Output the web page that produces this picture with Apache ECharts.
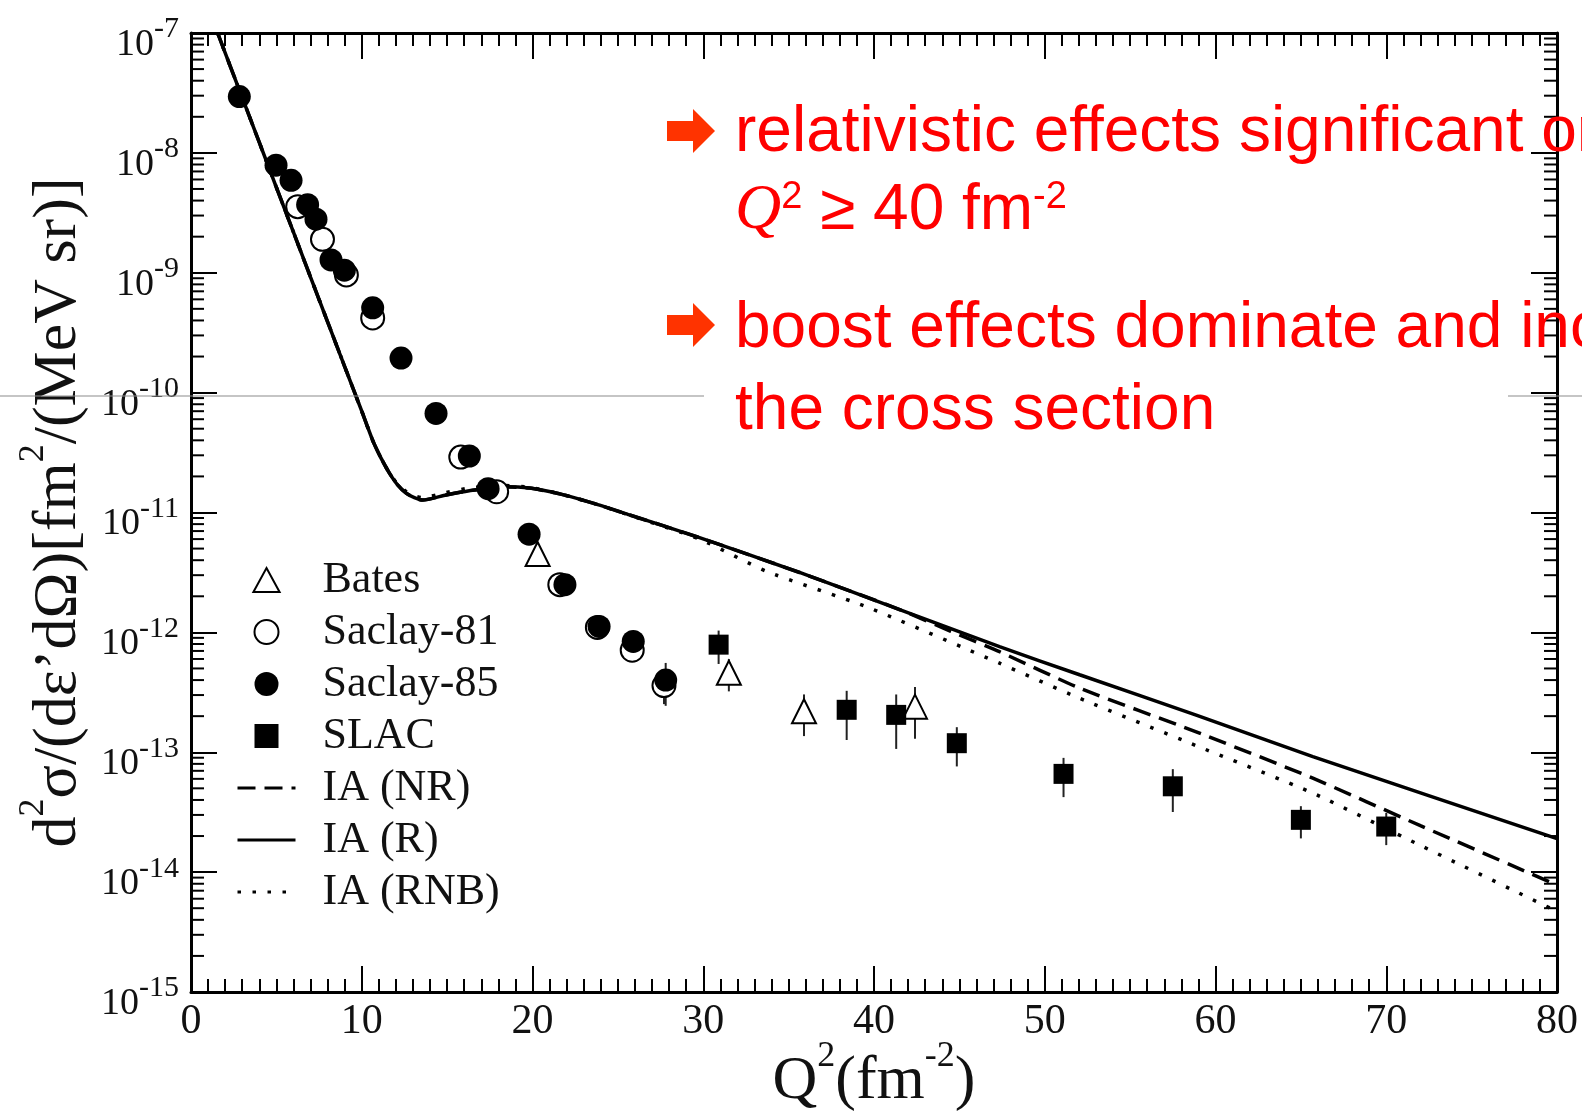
<!DOCTYPE html>
<html>
<head>
<meta charset="UTF-8" />
<title>Cross section vs Q2</title>
<style>
  * { margin: 0; padding: 0; }
  html, body { background: #fff; }
  #main { width: 1582px; height: 1113px; }
</style>
</head>
<body>
<div id="main"></div>
<script src="https://cdn.jsdelivr.net/npm/echarts@6/dist/echarts.min.js"></script>
<script>
// values: Q^2 in fm^-2, cross section in fm^2/(MeV sr)
var batesQ2 = [20.3, 31.5, 35.9, 42.4];
var batesXs = [4.5e-12, 4.6e-13, 2.2e-13, 2.4e-13];
var batesErr = [0.1, 0.3, 0.38, 0.46];

var saclay81Q2 = [6.25, 7.7, 9.1, 10.64, 15.8, 17.9, 21.6, 23.8, 25.84, 27.7];
var saclay81Xs = [3.56e-9, 1.9e-9, 9.6e-10, 4.2e-10, 2.9e-11, 1.49e-11, 2.5e-12, 1.1e-12, 7.1e-13, 3.6e-13];
var saclay81Err = [0.05, 0.05, 0.05, 0.05, 0.05, 0.05, 0.08, 0.1, 0.2, 0.3];

var saclay85Q2 = [2.83, 4.98, 5.86, 6.83, 7.32, 8.2, 8.98, 10.64, 12.3, 14.35, 16.3, 17.4, 19.8, 21.9, 23.9, 25.9, 27.8];
var saclay85Xs = [2.95e-8, 7.9e-9, 5.9e-9, 3.7e-9, 2.8e-9, 1.28e-9, 1.05e-9, 5.1e-10, 1.94e-10, 6.7e-11, 2.96e-11, 1.58e-11, 6.6e-12, 2.5e-12, 1.12e-12, 8.4e-13, 4.0e-13];
var saclay85Err = [0.05, 0.05, 0.05, 0.05, 0.05, 0.05, 0.05, 0.05, 0.05, 0.05, 0.05, 0.05, 0.05, 0.08, 0.1, 0.15, 0.39];

var slacQ2 = [30.9, 38.4, 41.3, 44.85, 51.1, 57.5, 65.0, 70.0];
var slacXs = [7.9e-13, 2.26e-13, 2.05e-13, 1.19e-13, 6.6e-14, 5.2e-14, 2.73e-14, 2.4e-14];
var slacErr = [0.31, 0.44, 0.48, 0.36, 0.36, 0.39, 0.3, 0.3];

// IA (R) solid
var rQ2 = [1.56, 3, 5, 7, 9, 10, 10.64, 11.13, 11.62, 12.1, 12.6, 13.08, 13.57, 14.94, 16.3, 18.26, 19.82, 21.77, 23.73, 25.68, 29.78, 35.64, 41.5, 47.35, 52.04, 58.87, 65.7, 80];
var rXs = [1e-7, 2.89e-8, 5.16e-9, 9.2e-10, 1.65e-10, 7e-11, 4e-11, 2.84e-11, 2.13e-11, 1.7e-11, 1.45e-11, 1.33e-11, 1.27e-11, 1.4e-11, 1.52e-11, 1.64e-11, 1.6e-11, 1.41e-11, 1.175e-11, 9.55e-12, 6.17e-12, 3.16e-12, 1.55e-12, 7.6e-13, 4.43e-13, 2.04e-13, 9.2e-14, 1.9e-14];

// IA (NR) dashed
var nrQ2 = [1.56, 3, 5, 7, 9, 10, 10.64, 11.13, 11.62, 12.1, 12.6, 13.08, 13.57, 14.94, 16.3, 18.26, 19.82, 21.77, 23.73, 25.68, 29.78, 35.64, 41.5, 44.5, 47.35, 52.04, 58.87, 65.7, 72, 80];
var nrXs = [1e-7, 2.89e-8, 5.16e-9, 9.2e-10, 1.65e-10, 7e-11, 4e-11, 2.84e-11, 2.13e-11, 1.7e-11, 1.45e-11, 1.33e-11, 1.27e-11, 1.4e-11, 1.52e-11, 1.64e-11, 1.6e-11, 1.41e-11, 1.175e-11, 9.55e-12, 6.17e-12, 3.16e-12, 1.55e-12, 1.02e-12, 6.9e-13, 3.43e-13, 1.48e-13, 6.08e-14, 2.44e-14, 7.8e-15];

// IA (RNB) dotted
var rnbQ2 = [1.56, 3, 5, 7, 9, 10, 10.64, 11.13, 11.62, 12.1, 12.6, 13.08, 13.57, 14.94, 16.3, 18.26, 19.82, 21.77, 23.73, 25.68, 29.78, 33.68, 39.54, 47.35, 52.04, 58.87, 65.7, 72, 80];
var rnbXs = [1e-7, 2.89e-8, 5.16e-9, 9.2e-10, 1.65e-10, 7e-11, 4e-11, 2.84e-11, 2.13e-11, 1.72e-11, 1.5e-11, 1.38e-11, 1.33e-11, 1.47e-11, 1.6e-11, 1.68e-11, 1.62e-11, 1.41e-11, 1.175e-11, 9.5e-12, 6.0e-12, 3.24e-12, 1.64e-12, 5.53e-13, 2.82e-13, 1.135e-13, 4.56e-14, 1.67e-14, 4.7e-15];

// log axis minor tick positions (mantissa x decade)
var minorMantissa = [2, 3, 4, 5, 6, 7, 8, 9];
var decadeExp = [-15, -14, -13, -12, -11, -10, -9, -8];

var serif = 'Liberation Serif';
var sans = 'Liberation Sans';
var ink = '#111';

function pairs(xs, ys) {
  return xs.map(function (x, i) { return [x, ys[i]]; });
}
function bars(xs, ys, errs) {
  return xs.map(function (x, i) { return [x, ys[i] * (1 - errs[i]), ys[i] * (1 + errs[i])]; });
}

var errData = [].concat(
  bars(batesQ2, batesXs, batesErr),
  bars(saclay81Q2, saclay81Xs, saclay81Err),
  bars(saclay85Q2, saclay85Xs, saclay85Err),
  bars(slacQ2, slacXs, slacErr)
);

var minorData = [];
decadeExp.forEach(function (e) {
  minorMantissa.forEach(function (m) { minorData.push([0, m * Math.pow(10, e)]); });
});

var myChart = echarts.init(document.getElementById('main'));

var tickLine = { color: '#000', width: 2 };
// axis titles: superscripts sit on the line top, main glyphs pushed down by padding
var titleRich = {
  m: { fontFamily: serif, fontSize: 62, lineHeight: 62, padding: [24, 0, 0, 0], color: ink },
  s: { fontFamily: serif, fontSize: 36, lineHeight: 30, verticalAlign: 'top', color: ink }
};

function xAx(pos) {
  return {
    type: 'value', min: 0, max: 80, interval: 10, position: pos,
    axisLine: { show: true, onZero: false, lineStyle: { color: '#000', width: 3 } },
    axisTick: { show: true, inside: true, length: 26, lineStyle: tickLine },
    minorTick: { show: true, splitNumber: 10, length: 13, lineStyle: tickLine },
    splitLine: { show: false },
    minorSplitLine: { show: false }
  };
}
function yAx(pos) {
  return {
    type: 'log', logBase: 10, min: 1e-15, max: 1e-7, splitNumber: 8, position: pos,
    axisLine: { show: true, onZero: false, lineStyle: { color: '#000', width: 3 } },
    axisTick: { show: true, inside: true, length: 26, lineStyle: tickLine },
    minorTick: { show: false },
    splitLine: { show: false }
  };
}

var xBottom = xAx('bottom');
xBottom.axisLabel = { show: true, margin: 9, fontFamily: serif, fontSize: 42, color: ink, showMinLabel: true, showMaxLabel: true };
xBottom.name = '{m|Q}{s|2}{m|(fm}{s|-2}{m|)}';
xBottom.nameLocation = 'middle';
xBottom.nameGap = 47;
xBottom.nameMoveOverlap = false;
xBottom.nameTextStyle = { fontFamily: serif, fontSize: 62, color: ink, rich: titleRich };

var xTop = xAx('top');
xTop.axisLabel = { show: false };

var yLeft = yAx('left');
yLeft.axisLabel = {
  show: true, margin: 12, showMinLabel: true, showMaxLabel: true,
  formatter: function (v) { return '{b|10}{s|' + Math.round(Math.log10(v)) + '}'; },
  rich: {
    b: { fontFamily: serif, fontSize: 38, lineHeight: 37, padding: [24, 0, 0, 0], color: ink },
    s: { fontFamily: serif, fontSize: 30, lineHeight: 11, verticalAlign: 'top', color: ink }
  }
};
yLeft.name = '{m|d}{s|2}{m|σ/(dε’dΩ)[fm}{s|2}{m|/(MeV sr)]}';
yLeft.nameLocation = 'middle';
yLeft.nameGap = 113;
yLeft.nameMoveOverlap = false;
yLeft.nameTextStyle = { fontFamily: serif, fontSize: 62, color: ink, rich: titleRich };

var yRight = yAx('right');
yRight.axisLabel = { show: false };

var red = '#ff0000';
var arrowRed = '#ff3300';
function arrow(cy) {
  return {
    type: 'polygon', silent: true, z: 60,
    shape: { points: [[667, cy - 10], [693, cy - 10], [693, cy - 22], [715, cy], [693, cy + 22], [693, cy + 10], [667, cy + 10]] },
    style: { fill: arrowRed }
  };
}
function note(y, txt) {
  return {
    type: 'text', x: 735, y: y, silent: true, z: 60,
    style: { text: txt, fill: red, fontSize: 64, fontFamily: sans, align: 'left', verticalAlign: 'middle' }
  };
}

var option = {
  backgroundColor: '#fff',
  animation: false,
  grid: { left: 191, right: 25, top: 33, bottom: 121, outerBoundsMode: 'none' },
  legend: {
    orient: 'vertical', left: 236, top: 558, padding: 0, itemGap: 8,
    itemWidth: 58, itemHeight: 24, align: 'left', selectedMode: false,
    textStyle: { fontFamily: serif, fontSize: 44, lineHeight: 42, color: ink, padding: [0, 0, 0, 22] },
    lineStyle: { width: 3 },
    data: [
      { name: 'Bates', icon: 'path://M12,0L24,22L0,22Z' },
      'Saclay-81', 'Saclay-85',
      { name: 'SLAC', icon: 'path://M0,0L20,0L20,20L0,20Z' },
      { name: 'IA (NR)', itemStyle: { opacity: 0 } },
      { name: 'IA (R)', itemStyle: { opacity: 0 } },
      { name: 'IA (RNB)', itemStyle: { opacity: 0 } }
    ]
  },
  xAxis: [xBottom, xTop],
  yAxis: [yLeft, yRight],
  graphic: [
    { type: 'line', silent: true, z: 50, shape: { x1: 0, y1: 396, x2: 704, y2: 396 }, style: { stroke: '#8c8c8c', lineWidth: 1.2 } },
    { type: 'line', silent: true, z: 50, shape: { x1: 1508, y1: 396, x2: 1582, y2: 396 }, style: { stroke: '#8c8c8c', lineWidth: 1.2 } },
    arrow(131),
    note(133.5, 'relativistic effects significant only for'),
    {
      type: 'text', x: 735, y: 211, silent: true, z: 60,
      style: {
        text: '{q|Q}{s|2}{m| ≥ 40 fm}{s|-2}', align: 'left', verticalAlign: 'middle',
        rich: {
          q: { fontFamily: serif, fontStyle: 'italic', fontSize: 64, lineHeight: 64, fill: red },
          m: { fontFamily: sans, fontSize: 64, lineHeight: 64, fill: red },
          s: { fontFamily: sans, fontSize: 38, lineHeight: 38, verticalAlign: 'top', fill: red }
        }
      }
    },
    arrow(325),
    note(329, 'boost effects dominate and increase'),
    note(411, 'the cross section')
  ],
  series: [
    {
      name: 'IA (NR)', type: 'line', z: 2, smooth: 0.2, showSymbol: false, symbol: 'none',
      lineStyle: { color: '#000', width: 3.5, type: [18, 9] }, itemStyle: { color: '#000' },
      data: pairs(nrQ2, nrXs)
    },
    {
      name: 'IA (R)', type: 'line', z: 2, smooth: 0.2, showSymbol: false, symbol: 'none',
      lineStyle: { color: '#000', width: 3.5, type: 'solid' }, itemStyle: { color: '#000' },
      data: pairs(rQ2, rXs)
    },
    {
      name: 'IA (RNB)', type: 'line', z: 2, smooth: 0.2, showSymbol: false, symbol: 'none',
      lineStyle: { color: '#000', width: 3.5, type: [3.5, 11.5] }, itemStyle: { color: '#000' },
      data: pairs(rnbQ2, rnbXs)
    },
    {
      name: 'errors', type: 'custom', z: 3, silent: true,
      encode: { x: 0, y: [1, 2] },
      renderItem: function (params, api) {
        var hi = api.coord([api.value(0), api.value(2)]);
        var lo = api.coord([api.value(0), api.value(1)]);
        return { type: 'line', shape: { x1: hi[0], y1: hi[1], x2: lo[0], y2: lo[1] }, style: { stroke: '#222', lineWidth: 2 } };
      },
      data: errData
    },
    {
      name: 'Saclay-81', type: 'scatter', z: 4, symbol: 'circle', symbolSize: 23,
      itemStyle: { color: '#fff', borderColor: '#000', borderWidth: 2, opacity: 1 },
      data: pairs(saclay81Q2, saclay81Xs)
    },
    {
      name: 'Bates', type: 'scatter', z: 4, symbol: 'triangle', symbolSize: 24,
      itemStyle: { color: '#fff', borderColor: '#000', borderWidth: 2, opacity: 1 },
      data: pairs(batesQ2, batesXs)
    },
    {
      name: 'SLAC', type: 'scatter', z: 4, symbol: 'rect', symbolSize: 20,
      itemStyle: { color: '#000', opacity: 1 },
      data: pairs(slacQ2, slacXs)
    },
    {
      name: 'Saclay-85', type: 'scatter', z: 5, symbol: 'circle', symbolSize: 23,
      itemStyle: { color: '#000', opacity: 1 },
      data: pairs(saclay85Q2, saclay85Xs)
    },
    {
      name: 'minor ticks', type: 'custom', z: 1, silent: true,
      encode: { x: 0, y: 1 },
      renderItem: function (params, api) {
        var v = api.value(1);
        var l = api.coord([0, v]);
        var r = api.coord([80, v]);
        return {
          type: 'group',
          children: [
            { type: 'line', shape: { x1: l[0], y1: l[1], x2: l[0] + 13, y2: l[1] }, style: { stroke: '#000', lineWidth: 2 } },
            { type: 'line', shape: { x1: r[0] - 13, y1: r[1], x2: r[0], y2: r[1] }, style: { stroke: '#000', lineWidth: 2 } }
          ]
        };
      },
      data: minorData
    }
  ]
};
myChart.setOption(option);
</script>
</body>
</html>
